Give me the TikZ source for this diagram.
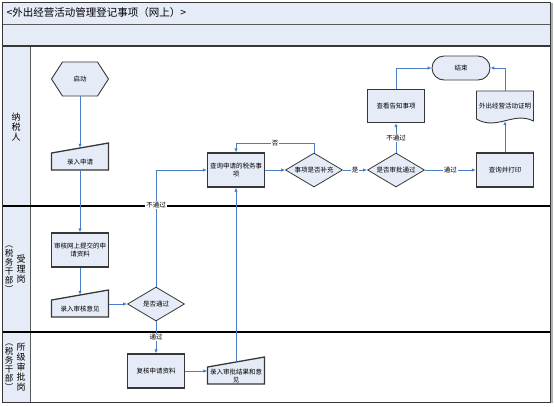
\documentclass[tikz,border=0pt]{standalone}
\usepackage{fontspec}
\setmainfont{Noto Sans CJK SC}
\usetikzlibrary{arrows.meta,backgrounds,calc,shapes.geometric}

\definecolor{paleblue}{RGB}{230,236,247}
\definecolor{flowblue}{RGB}{74,126,196}
\definecolor{edgegray}{RGB}{55,55,55}

\tikzset{
  nodefont/.style={font=\fontsize{6.5bp}{8bp}\selectfont},
  outline/.style={draw=edgegray, line width=1.3bp, fill=paleblue},
  box/.style={outline, nodefont, minimum width=57bp, minimum height=34bp, inner sep=1bp, align=center},
  decision/.style={diamond, aspect=1.68, draw=edgegray, line width=0.8bp, fill=paleblue, nodefont,
    minimum width=57bp, minimum height=34bp, inner sep=0pt},
  terminal/.style={draw=edgegray, line width=0.9bp, fill=paleblue, rounded corners=12bp, nodefont,
    minimum width=58bp, minimum height=24bp},
  plain/.style={nodefont, inner sep=0pt, minimum width=57bp, minimum height=16bp, align=center},
  lane/.style={font=\fontsize{9bp}{10bp}\selectfont, align=center, inner sep=0pt},
  flow/.style={draw=flowblue, line width=1bp, -{Latex[length=4bp,width=3.5bp]}},
  lbl/.style={nodefont, fill=white, inner sep=0.8bp}
}

% custom outlines, drawn behind a plain node
\newcommand{\slantshape}[1]{%
  \filldraw[outline] ($(#1)+(-28.5,8)$) -- ($(#1)+(-28.5,-9)$) -- ($(#1)+(28.5,-19)$)
    -- ($(#1)+(28.5,8)$) -- cycle;}
\newcommand{\hexshape}[1]{%
  \filldraw[outline, line width=0.9bp] ($(#1)+(-28.5,0)$) -- ($(#1)+(-17.5,-17)$) -- ($(#1)+(17.5,-17)$)
    -- ($(#1)+(28.5,0)$) -- ($(#1)+(17.5,17)$) -- ($(#1)+(-17.5,17)$) -- cycle;}
\newcommand{\docshape}[1]{%
  \filldraw[outline, line width=0.9bp] ($(#1)+(-28.5,13)$) -- ($(#1)+(-28.5,-15)$) -- ($(#1)+(28.5,-15)$)
    -- ($(#1)+(28.5,15)$) .. controls ($(#1)+(8.5,5)$) and ($(#1)+(-8.5,25)$) .. ($(#1)+(-28.5,13)$) -- cycle;}

\begin{document}
\begin{tikzpicture}[x=1bp, y=-1bp]
  \useasboundingbox (0,0) rectangle (554,406);

  % Header bars
  \fill[paleblue] (2,2) rectangle (550,46);
  \draw[gray!70!black, line width=0.8bp] (2,24) -- (550,24);
  \draw[edgegray, line width=2bp] (2,46) -- (550,46);
  \node[anchor=west, font=\fontsize{10.5bp}{12bp}\selectfont] (title) at (3,13) {<外出经营活动管理登记事项（网上）>};

  % Lanes
  \fill[paleblue] (2,47) rectangle (30,402);
  \draw[gray!70!black, line width=1bp] (30,47) -- (30,402);
  \foreach \y in {206,332} {
    \draw[black, line width=1.1bp] (2,\y) -- (550,\y);
  }
  \draw[gray!60, line width=2bp] (552,3) -- (552,403);
  \draw[edgegray, line width=1bp] (2,2) rectangle (550,402);

  \node[lane] (payer) at (16,127) {纳\\税\\人};
  \node[lane, font=\fontsize{8.5bp}{9bp}\selectfont] (staffa) at (9,269) {︵\\税\\务\\干\\部\\︶};
  \node[lane] (accept) at (21,269) {受\\理\\岗};
  \node[lane, font=\fontsize{8.5bp}{9bp}\selectfont] (staffb) at (9,367) {︵\\税\\务\\干\\部\\︶};
  \node[lane] (approve) at (21,367) {所\\级\\审\\批\\岗};

  % Nodes
  \node[plain, minimum height=34bp] (start) at (80,79) {启动};
  \node[plain] (apply) at (80,162) {录入申请};
  \node[box] (check) at (80,250) {审核网上提交的申\\请资料};
  \node[plain] (opinion) at (80,309) {录入审核意见};
  \node[decision] (pass) at (156,304) {是否通过};
  \node[box] (review) at (156,371) {复核申请资料};
  \node[plain] (result) at (236,376) {录入审批结果和意\\见};
  \node[box] (query) at (236,170) {查询申请的税务事\\项};
  \node[decision] (supp) at (314,170) {事项是否补充};
  \node[decision] (apprv) at (396,170) {是否审批通过};
  \node[box, minimum height=33bp] (notice) at (396,106) {查看告知事项};
  \node[box] (print) at (505,170) {查询并打印};
  \node[plain, minimum height=30bp] (doc) at (505,106) {外出经营活动证明};
  \node[terminal] (fin) at (461,68) {结束};

  \begin{scope}[on background layer]
    \hexshape{start}
    \slantshape{apply}
    \slantshape{opinion}
    \slantshape{result}
    \docshape{doc}
  \end{scope}

  % Flow
  \draw[flow] (start.south) -- ($(apply.north)+(0,-6)$);
  \draw[flow] (apply.south) -- (check.north);
  \draw[flow] (check.south) -- ($(opinion.north)+(0,-6)$);
  \draw[flow] (opinion.east |- pass.west) -- (pass.west);
  \draw[flow] (pass.north) |- (query.west) node[lbl, pos=0.35] {不通过};
  \draw[flow] (pass.south) -- (review.north) node[lbl, midway] {通过};
  \draw[flow] (review.east) -- (review.east -| result.west);
  \draw[flow] ($(result.north)+(0,-6)$) -- (query.south);
  \draw[flow] (query.east) -- (supp.west);
  \draw[flow] (supp.north) |- ([yshift=9bp]query.north) node[lbl, pos=0.75] {否} -- (query.north);
  \draw[flow] (supp.east) -- (apprv.west) node[lbl, midway] {是};
  \draw[flow] (apprv.north) -- (notice.south) node[lbl, midway] {不通过};
  \draw[flow] (apprv.east) -- (print.west) node[lbl, midway] {通过};
  \draw[flow] (notice.north) |- (fin.west);
  \draw[flow] (print.north) -- (doc.south);
  \draw[flow] (doc.north) |- (fin.east);
\end{tikzpicture}
\end{document}
